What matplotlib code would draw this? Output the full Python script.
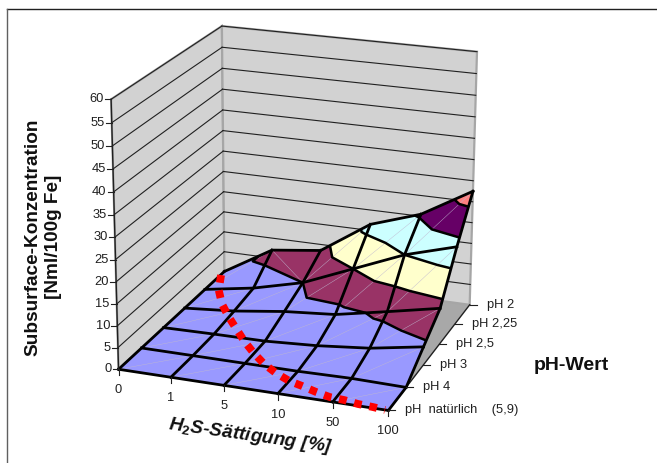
import numpy as np
import matplotlib
matplotlib.use("Agg")
import matplotlib.pyplot as plt
from matplotlib.tri import Triangulation

plt.rcParams['font.family'] = ['Liberation Sans', 'DejaVu Sans']
plt.rcParams['mathtext.fontset'] = 'custom'
plt.rcParams['mathtext.bf'] = 'Liberation Sans:bold'

h2s_labels = ['0', '1', '5', '10', '50', '100']
ph_labels = ['pH  natürlich    (5,9)', 'pH 4', 'pH 3', 'pH 2,5', 'pH 2,25', 'pH 2']
z_ticks = [0, 5, 10, 15, 20, 25, 30, 35, 40, 45, 50, 55, 60]

conc_ph_nat = [0, 0, 0, 0, 0, 0]
conc_ph_4 = [0, 0, 0, 0, 0.2, 0]
conc_ph_3 = [0, 0.2, 0.3, 1, 2.2, 4.3]
conc_ph_25 = [0, 1, 2.6, 3.6, 6, 8.5]
conc_ph_225 = [0, 2, 5, 10, 15, 18.5]
conc_ph_2 = [0, 7, 8.5, 16.5, 20.5, 27.5]

band_levels = [0, 5, 10, 15, 20, 25, 30]
band_colors = ['#9999FF', '#993366', '#FFFFCC', '#CCFFFF', '#660066', '#FF8080']

# red hand drawn curve on the floor, in axis positions
red_h2s = [0.01, 0.26, 0.58, 0.94, 1.31, 1.65, 1.98, 2.33, 2.66, 3.0, 3.28, 3.59, 3.89, 4.16, 4.43, 4.71, 4.94]
red_ph = [4.8, 4.06, 3.43, 2.88, 2.36, 1.89, 1.48, 1.09, 0.8, 0.56, 0.44, 0.29, 0.17, 0.14, 0.07, 0.04, 0.0]

# corners of the chart box: (h2s position, ph position, value) -> pixel
box_3d = [(0, 0, 0), (5, 0, 0), (5, 5, 0), (0, 5, 0), (0, 0, 60), (0, 5, 60), (5, 5, 60)]
box_px = [(119, 369), (388, 411), (470, 304), (224, 272), (111, 99), (222, 26), (477, 52)]

rows = []
for (a, b, c), (x, y) in zip(box_3d, box_px):
    rows.append([a, b, c, 1, 0, 0, 0, 0, -x*a, -x*b, -x*c, -x])
    rows.append([0, 0, 0, 0, a, b, c, 1, -y*a, -y*b, -y*c, -y])
P = np.linalg.svd(np.array(rows, float))[2][-1].reshape(3, 4)


def project(u, v, z):
    u, v, z = np.asarray(u, float), np.asarray(v, float), np.asarray(z, float)
    w = P[2, 0]*u + P[2, 1]*v + P[2, 2]*z + P[2, 3]
    x = (P[0, 0]*u + P[0, 1]*v + P[0, 2]*z + P[0, 3]) / w
    y = (P[1, 0]*u + P[1, 1]*v + P[1, 2]*z + P[1, 3]) / w
    return x, y


fig = plt.figure(figsize=(6.57, 4.63), dpi=100)
ax = fig.add_axes([0, 0, 1, 1])
ax.set_xlim(0, 657)
ax.set_ylim(463, 0)
ax.axis('off')

# page frame, only top and left
ax.plot([7, 657], [8.5, 8.5], color='#202020', lw=1, zorder=1)
ax.plot([7, 7], [8.5, 463], color='#606060', lw=1, zorder=1)

# walls and floor
def pane(corners, **kw):
    x, y = project(*zip(*corners))
    ax.fill(x, y, **kw)

wall = dict(facecolor='#D2D2D2', edgecolor='#A6A6A6', lw=1.6, joinstyle='miter')
pane([(0, 0, 0), (5, 0, 0), (5, 5, 0), (0, 5, 0)], facecolor='#A8A8A8', edgecolor='none', zorder=2)
pane([(0, 0, 0), (0, 5, 0), (0, 5, 60), (0, 0, 60)], zorder=2, **wall)
pane([(0, 5, 0), (5, 5, 0), (5, 5, 60), (0, 5, 60)], zorder=2, **wall)

for t in z_ticks[1:]:
    x, y = project([0, 0, 0], [0, 5, 5], [t, t, t])
    ax.plot(x[:2], y[:2], color='#202020', lw=0.8, zorder=3)
    x, y = project([0, 5], [5, 5], [t, t])
    ax.plot(x, y, color='#202020', lw=0.8, zorder=3)

# surface, coloured by value bands
Z = np.array([conc_ph_nat, conc_ph_4, conc_ph_3, conc_ph_25, conc_ph_225, conc_ph_2], float)
U, V = np.meshgrid(np.arange(6), np.arange(6))
sx, sy = project(U, V, Z)
alt_cells = {(1, 4)}
tris = []
for j in range(5):
    for i in range(5):
        a, b, c, d = j*6+i, j*6+i+1, (j+1)*6+i+1, (j+1)*6+i
        if (i, j) in alt_cells:
            tris += [[a, b, d], [b, c, d]]
        else:
            tris += [[a, b, c], [a, c, d]]
        p, q = (b, d) if (i, j) in alt_cells else (a, c)
        ax.plot(sx.ravel()[[p, q]], sy.ravel()[[p, q]], color='#C0B8D0', lw=0.3, zorder=5)
tri = Triangulation(sx.ravel(), sy.ravel(), tris)
ax.tricontourf(tri, Z.ravel(), levels=band_levels, colors=band_colors, zorder=4)
ax.tricontour(tri, Z.ravel(), levels=band_levels[1:-1], colors='black', linewidths=1.8, zorder=6)
for k in range(6):
    ax.plot(sx[k, :], sy[k, :], color='black', lw=2.0, zorder=6)
    ax.plot(sx[:, k], sy[:, k], color='black', lw=2.0, zorder=6)

# red curve
rx, ry = project(red_h2s, red_ph, np.zeros(len(red_ph)))
ax.plot(rx, ry, color='#FF0000', lw=5.6, linestyle=(0, (1, 1)), dash_capstyle='butt', zorder=8)

# axis lines and ticks
x, y = project([0, 0], [0, 0], [0, 60])
ax.plot(x, y, color='#202020', lw=1, zorder=7)
for t in z_ticks:
    x, y = project(0, 0, t)
    ax.plot([x-6, x], [y, y], color='#202020', lw=0.8, zorder=7)
    ax.text(x-7, y, str(t), ha='right', va='center', fontsize=9.3, color='#202020')
for k, lab in enumerate(h2s_labels):
    x, y = project(k, 0, 0)
    ax.plot([x, x], [y, y+6], color='#202020', lw=0.8, zorder=7)
    ax.text(x, y+21, lab, ha='center', va='center', fontsize=9.3, color='#202020')
x, y = project([5, 5], [0, 5], [0, 0])
ax.plot(x, y, color='#202020', lw=1, zorder=3)
for k, lab in enumerate(ph_labels):
    x, y = project(5, k, 0)
    ax.plot([x, x+7], [y, y], color='#202020', lw=0.8, zorder=7)
    ax.text(x+17, y, lab, ha='left', va='center', fontsize=9.3, color='#202020')

# titles
ax.text(33, 237, 'Subsurface-Konzentration', rotation=90, ha='center', va='center',
        fontsize=13.7, fontweight='bold', color='#101010')
ax.text(54, 237, '[Nml/100g Fe]', rotation=90, ha='center', va='center',
        fontsize=13.7, fontweight='bold', color='#101010')
ax.text(571, 366, 'pH-Wert', ha='center', va='center', fontsize=14, fontweight='bold', color='#101010')
ax.text(251, 436, r'H$_{\mathbf{2}}$S-Sättigung [%]', rotation=-8, rotation_mode='anchor',
        ha='center', va='center', fontsize=13.7, fontweight='bold', style='italic', color='#101010')

fig.savefig('out.png', dpi=100)
